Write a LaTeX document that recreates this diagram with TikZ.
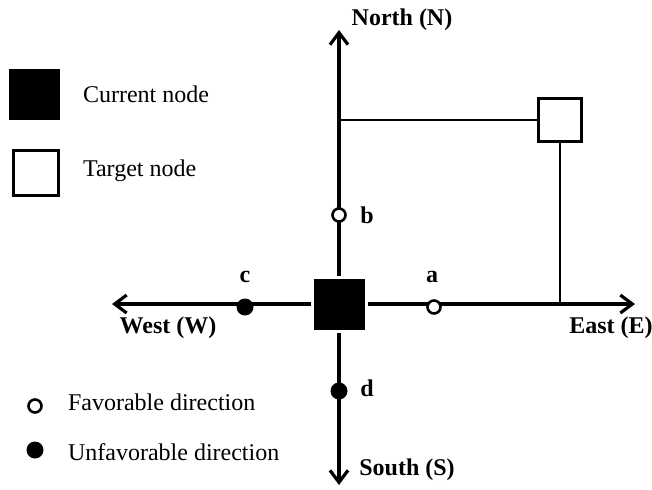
\documentclass[tikz,border=0pt]{standalone}
\usepackage{fontspec}
\setmainfont{Liberation Serif}
\usetikzlibrary{arrows.meta,shadows}

\begin{document}
\begin{tikzpicture}[x=0.5pt, y=-0.5pt, font=\fontsize{12}{14}\selectfont,
  >={Straight Barb[length=6pt, width=9pt]},
  axis/.style = {->, line width=1.6pt},
  link/.style = {line width=1.3pt},
  cur/.style = {fill=black, draw=white, line width=1.5pt, minimum size=27pt, inner sep=0pt,
    drop shadow={shadow xshift=0.8pt, shadow yshift=-0.8pt, opacity=0.25}},
  tgt/.style = {draw, fill=white, line width=1.5pt, minimum size=21.5pt, inner sep=0pt},
  fav/.style = {circle, draw, fill=white, line width=1.3pt, minimum size=6.5pt, inner sep=0pt},
  unfav/.style = {circle, fill=black, minimum size=8.5pt, inner sep=0pt},
  lbl/.style = {font=\fontsize{12}{14}\selectfont\bfseries}]
\useasboundingbox (0,0) rectangle (652,489);

\coordinate (O) at (339,304);
\coordinate (N) at (339,30);
\coordinate (S) at (339,485);
\coordinate (W) at (112,304);
\coordinate (E) at (635,304);

\draw[axis] (O) -- (N);
\draw[axis] (O) -- (S);
\draw[axis] (O) -- (W);
\draw[axis] (O) -- (E);

\node[tgt] (target) at (560,120) {};
\draw[link] (target.west -| O) -- (target.west);
\draw[link] (target.south) -- (target.south |- O);

\node[cur] (current) at (O) {};

\node[fav] (a) at (434,307) {};
\node[fav] (b) at (339,215) {};
\node[unfav] (c) at (245,307) {};
\node[unfav] (d) at (339,391) {};

\node[lbl] (la) at (432,277) {a};
\node[lbl] (lb) at (367,215) {b};
\node[lbl] (lc) at (245,277) {c};
\node[lbl] (ld) at (367,388) {d};

\node[lbl] (north) at (402,20) {North (N)};
\node[lbl] (south) at (407,470) {South (S)};
\node[lbl] (west) at (168,328) {West (W)};
\node[lbl] (east) at (611,328) {East (E)};

\node[cur] (keycur) at (34,94) {};
\node[anchor=west] (keycurtxt) at (76,94) {Current node};
\node[tgt, minimum size=22.5pt] (keytgt) at (36,173) {};
\node[anchor=west] (keytgttxt) at (76,171) {Target node};

\node[fav] (keyfav) at (35,406) {};
\node[anchor=west] (keyfavtxt) at (61,402) {Favorable direction};
\node[unfav] (keyunfav) at (35,450) {};
\node[anchor=west] (keyunfavtxt) at (61,452) {Unfavorable direction};

\end{tikzpicture}
\end{document}
